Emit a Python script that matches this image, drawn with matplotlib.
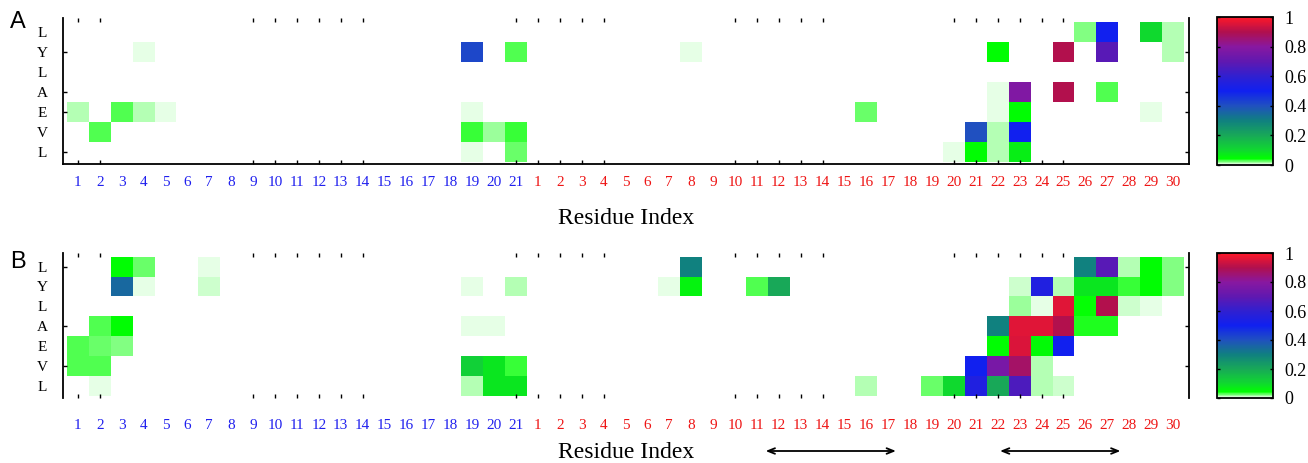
import numpy as np
import matplotlib
matplotlib.use("Agg")
import matplotlib.pyplot as plt
from matplotlib.colors import LinearSegmentedColormap

# row labels (top to bottom) and column labels
row_labels = ["L", "Y", "L", "A", "E", "V", "L"]
blue_res = [str(i) for i in range(1, 22)]
red_res = [str(i) for i in range(1, 31)]
col_labels = blue_res + red_res
col_colors = ["#2020ee"] * len(blue_res) + ["#ee1515"] * len(red_res)

# non-zero cells: (row, column 1..51, value)
cells_a = [
    (1, 4, 0.005),
    (4, 1, 0.0125), (4, 3, 0.03), (4, 4, 0.015), (4, 5, 0.005),
    (5, 2, 0.03),
    (0, 21, 0.0025),
    (1, 19, 0.42), (1, 21, 0.03), (1, 29, 0.005),
    (3, 19, 0.0025),
    (4, 19, 0.005), (4, 37, 0.025),
    (5, 19, 0.032), (5, 20, 0.016), (5, 21, 0.032),
    (6, 19, 0.005), (6, 20, 0.0025), (6, 21, 0.024), (6, 37, 0.0025),
    (0, 47, 0.02), (0, 48, 0.5), (0, 50, 0.1), (0, 51, 0.0125),
    (1, 43, 0.045), (1, 46, 0.9), (1, 48, 0.68), (1, 51, 0.0125),
    (2, 50, 0.0025),
    (3, 43, 0.005), (3, 44, 0.78), (3, 46, 0.9), (3, 48, 0.03),
    (4, 43, 0.005), (4, 44, 0.045), (4, 45, 0.0025), (4, 50, 0.005),
    (5, 42, 0.4), (5, 43, 0.015), (5, 44, 0.5),
    (6, 41, 0.004), (6, 42, 0.045), (6, 43, 0.015), (6, 44, 0.07),
]

cells_b = [
    (0, 2, 0.0025), (0, 3, 0.045), (0, 4, 0.025), (0, 7, 0.005),
    (1, 1, 0.0025), (1, 2, 0.0025), (1, 3, 0.35), (1, 4, 0.005), (1, 7, 0.011),
    (2, 1, 0.0025),
    (3, 1, 0.0025), (3, 2, 0.028), (3, 3, 0.045),
    (4, 1, 0.03), (4, 2, 0.025), (4, 3, 0.022),
    (5, 1, 0.03), (5, 2, 0.03),
    (6, 2, 0.007),
    (0, 21, 0.0025), (0, 28, 0.0025), (0, 29, 0.3),
    (1, 19, 0.004), (1, 21, 0.015), (1, 28, 0.004), (1, 29, 0.06),
    (1, 32, 0.028), (1, 33, 0.2),
    (3, 19, 0.004), (3, 20, 0.004), (3, 32, 0.0025), (3, 33, 0.0025), (3, 36, 0.0025),
    (4, 18, 0.0025), (4, 19, 0.0025), (4, 20, 0.0025),
    (5, 19, 0.12), (5, 20, 0.08), (5, 21, 0.035),
    (6, 19, 0.0125), (6, 20, 0.08), (6, 21, 0.08), (6, 37, 0.0125),
    (0, 46, 0.0025), (0, 47, 0.3), (0, 48, 0.68), (0, 49, 0.015), (0, 50, 0.045), (0, 51, 0.02),
    (1, 43, 0.0025), (1, 44, 0.01), (1, 45, 0.55), (1, 46, 0.014), (1, 47, 0.08),
    (1, 48, 0.08), (1, 49, 0.032), (1, 50, 0.045), (1, 51, 0.02),
    (2, 44, 0.016), (2, 45, 0.007), (2, 46, 0.96), (2, 47, 0.04), (2, 48, 0.9),
    (2, 49, 0.01), (2, 50, 0.005),
    (3, 43, 0.3), (3, 44, 0.96), (3, 45, 0.96), (3, 46, 0.9), (3, 47, 0.038), (3, 48, 0.038),
    (4, 43, 0.045), (4, 44, 0.95), (4, 45, 0.05), (4, 46, 0.5), (4, 50, 0.0025),
    (5, 40, 0.0025), (5, 42, 0.5), (5, 43, 0.76), (5, 44, 0.87), (5, 45, 0.015),
    (6, 37, 0.0125), (6, 40, 0.025), (6, 41, 0.1), (6, 42, 0.55), (6, 43, 0.2),
    (6, 44, 0.66), (6, 45, 0.015), (6, 46, 0.01),
]

# columns / rows carrying small tick marks
tick_cols = [1, 2, 9, 10, 11, 12, 13, 14, 21, 22, 23, 24, 25,
             31, 32, 33, 34, 35, 41, 42, 43, 44, 45, 46]
tick_rows_a = [1, 3, 4, 6]
tick_rows_b = [0, 3, 5]

# double arrows under panel B (in column units)
arrow_spans = [(31.9, 37.85), (42.6, 48.1)]

cmap = LinearSegmentedColormap.from_list("wgbr", [
    (0.0, "#ffffff"), (0.04, "#00ff00"), (0.1, "#10d830"), (0.2, "#18a858"),
    (0.3, "#108080"), (0.4, "#2050c0"), (0.5, "#1020f0"), (0.6, "#3020d0"),
    (0.7, "#6018b0"), (0.8, "#8818a0"), (0.9, "#b0104e"), (1.0, "#ff1828"),
])

serif = "Liberation Serif"
W, H = 1308, 463
fig = plt.figure(figsize=(W / 100, H / 100), dpi=100)


def px_box(x0, y0, x1, y1):
    return [x0 / W, 1 - y1 / H, (x1 - x0) / W, (y1 - y0) / H]


def draw_panel(cells, box, cbox, tick_rows, bottom_spine, label_pad, letter, letter_y, xlabel_y):
    mat = np.zeros((len(row_labels), len(col_labels)))
    for r, c, v in cells:
        mat[r, c - 1] = v
    ax = fig.add_axes(box)
    mesh = ax.pcolormesh(np.arange(len(col_labels) + 1), np.arange(len(row_labels) + 1),
                         mat, cmap=cmap, vmin=0, vmax=1)
    ax.set_xlim(-0.18, 51.23)
    ax.set_ylim(7.115, -0.185)
    for s in ["top", "bottom", "left", "right"]:
        ax.spines[s].set_linewidth(1.3)
    ax.spines["top"].set_visible(False)
    ax.spines["bottom"].set_visible(bottom_spine)

    ax.xaxis.remove_overlapping_locs = False
    ax.yaxis.remove_overlapping_locs = False
    ax.set_xticks(np.arange(len(col_labels)) + 0.5)
    ax.set_xticklabels(col_labels, family=serif, fontsize=11)
    for t, c in zip(ax.get_xticklabels(), col_colors):
        t.set_color(c)
    ax.set_xticks([c - 0.5 for c in tick_cols], minor=True)
    ax.set_yticks(np.arange(len(row_labels)) + 0.5)
    ax.set_yticklabels(row_labels, family=serif, fontsize=11)
    for t in ax.get_yticklabels():
        t.set_horizontalalignment("center")
    ax.set_yticks([r + 0.5 for r in tick_rows], minor=True)
    ax.tick_params(which="major", length=0)
    ax.tick_params(axis="x", which="major", pad=label_pad)
    ax.tick_params(axis="y", which="major", pad=15)
    ax.tick_params(which="minor", direction="in", length=3, width=1,
                   top=True, bottom=True, left=True, right=True)

    cax = fig.add_axes(cbox)
    cb = fig.colorbar(mesh, cax=cax, ticks=[0, 0.2, 0.4, 0.6, 0.8, 1])
    cb.ax.set_yticklabels(["0", "0.2", "0.4", "0.6", "0.8", "1"], family=serif, fontsize=13)
    cb.ax.tick_params(direction="in", length=2, width=1, pad=8, left=True, right=True)
    cb.outline.set_linewidth(1.3)

    fig.text(10 / W, 1 - letter_y / H, letter, family="Liberation Sans", fontsize=17,
             va="center", ha="left")
    fig.text(626 / W, 1 - xlabel_y / H, "Residue Index", family=serif, fontsize=17,
             va="center", ha="center")
    return ax


ax_a = draw_panel(cells_a, px_box(63, 18, 1189, 164), px_box(1217, 17, 1273, 165),
                  tick_rows_a, True, 9, "A", 22, 219)
ax_b = draw_panel(cells_b, px_box(63, 253, 1189, 398), px_box(1217, 253, 1273, 398),
                  tick_rows_b, False, 15, "B", 262, 453)

for x0, x1 in arrow_spans:
    ax_b.annotate("", xy=(x1, 1 - 451 / H), xytext=(x0, 1 - 451 / H),
                  xycoords=("data", "figure fraction"), textcoords=("data", "figure fraction"),
                  arrowprops=dict(arrowstyle="<->,head_length=0.5,head_width=0.2",
                                  color="black", lw=1.3, shrinkA=0, shrinkB=0),
                  annotation_clip=False)

fig.savefig("out.png", dpi=100)
